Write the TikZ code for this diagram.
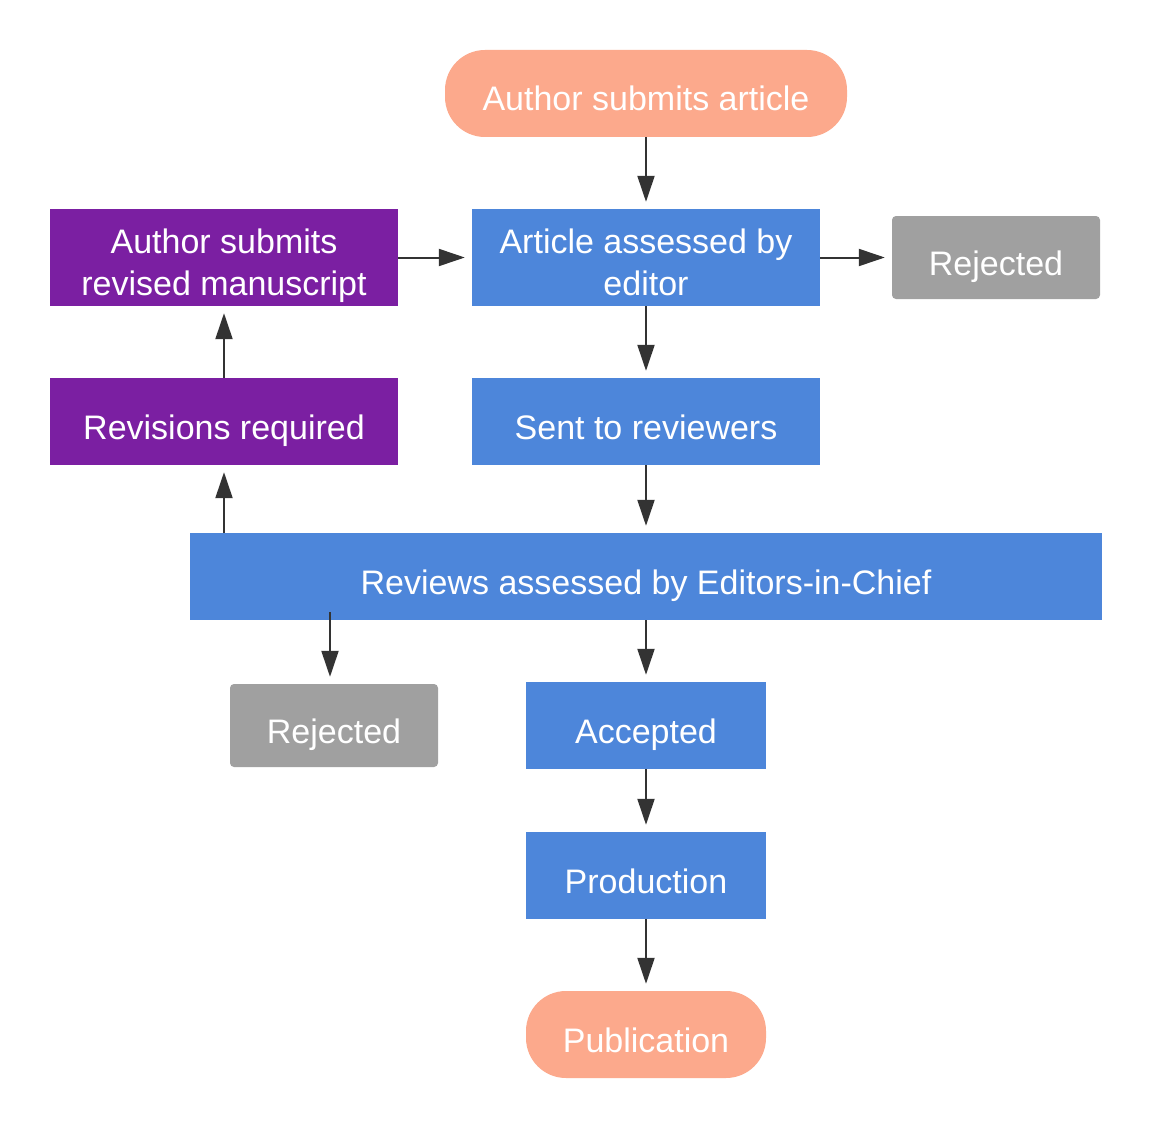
\documentclass[tikz,border=0pt]{standalone}
\usepackage{fontspec}
\setmainfont{Liberation Sans}
\usetikzlibrary{arrows.meta, positioning}
\definecolor{salmon}{RGB}{252,169,140}
\definecolor{boxblue}{RGB}{77,134,218}
\definecolor{boxpurple}{RGB}{123,31,162}
\definecolor{rejgray}{RGB}{160,160,160}
\definecolor{arrowgray}{RGB}{51,51,51}

\begin{document}
\begin{tikzpicture}[x=1pt, y=-1pt,
  every node/.style={text=white, font=\fontsize{34}{42}\selectfont, align=center,
    inner sep=0pt, text height=35pt, text depth=0pt},
  twoline/.style={text height=75pt, text depth=0pt},
  terminal/.style={fill=salmon, rounded corners=40pt, minimum height=87pt},
  stage/.style={fill=boxblue, minimum height=87pt},
  revise/.style={fill=boxpurple, minimum width=348pt, minimum height=87pt},
  reject/.style={fill=rejgray, rounded corners=4pt, minimum width=208pt, minimum height=83pt},
  flow/.style={arrowgray, line width=2pt, -{Triangle[length=26pt, width=17pt]}, shorten >=7pt}]
  \fill[white] (0,0) rectangle (1152,1129);
  \useasboundingbox (0,0) rectangle (1152,1129);
  % start
  \node[terminal, minimum width=402pt] (submit) at (646,93.5) {Author submits article};
  % editor row
  \node[stage, twoline, minimum width=348pt, minimum height=97pt] (editor) at (646,257.5) {Article assessed by\\editor};
  \node[reject] (rejtop) at (996,257.5) {Rejected};
  \node[revise, twoline, minimum height=97pt] (revised) at (224,257.5) {Author submits\\revised manuscript};
  % review row
  \node[revise] (revreq) at (224,421.5) {Revisions required};
  \node[stage, minimum width=348pt] (sent) at (646,421.5) {Sent to reviewers};
  \node[stage, minimum width=912pt] (reviews) at (646,576.5) {Reviews assessed by Editors-in-Chief};
  % outcome
  \node[reject] (rejbot) at (334,725.5) {Rejected};
  \node[stage, minimum width=240pt] (accepted) at (646,725.5) {Accepted};
  \node[stage, minimum width=240pt] (production) at (646,875.5) {Production};
  \node[terminal, minimum width=240pt] (publication) at (646,1034.5) {Publication};
  % connectors
  \draw[flow] (submit) -- (editor);
  \draw[flow] (editor) -- (rejtop);
  \draw[flow] (revised) -- (editor);
  \draw[flow] (editor) -- (sent);
  \draw[flow] (sent) -- (reviews);
  \draw[flow] (reviews.north -| revreq.south) -- (revreq.south);
  \draw[flow] (revreq) -- (revised);
  \draw[flow] ([yshift=8pt,xshift=-4pt]reviews.south -| rejbot.north) -- ([xshift=-4pt]rejbot.north);
  \draw[flow] (reviews.south -| accepted.north) -- (accepted);
  \draw[flow] (accepted) -- (production);
  \draw[flow] (production) -- (publication);
\end{tikzpicture}
\end{document}
